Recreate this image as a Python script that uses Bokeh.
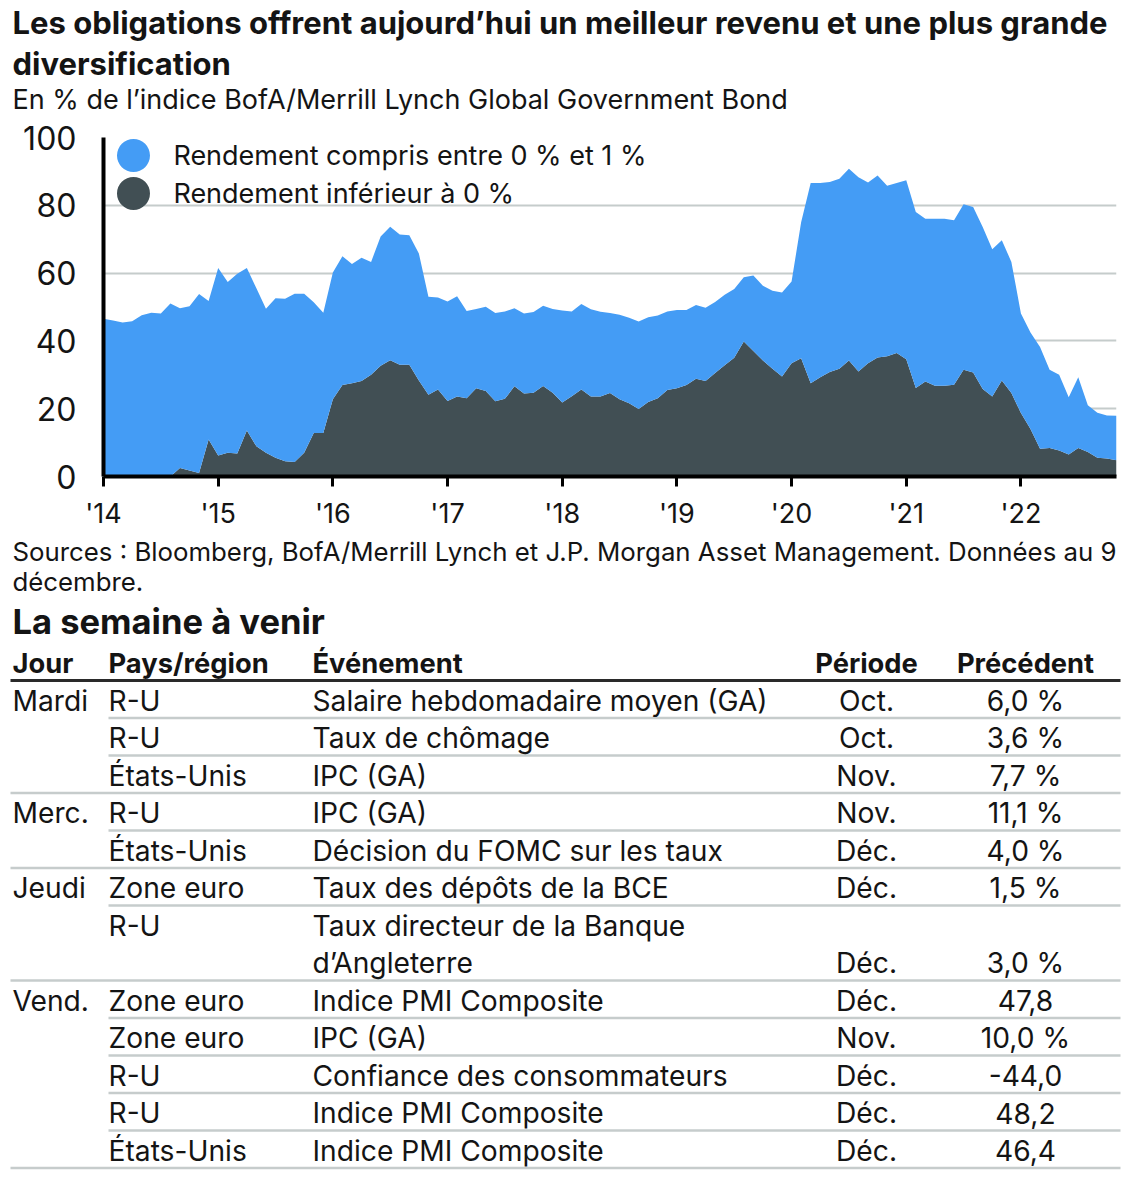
import numpy as np
from bokeh.plotting import figure
from bokeh.layouts import column
from bokeh.models import Range1d, FixedTicker, ColumnDataSource
from bokeh.embed import file_html
from bokeh.resources import INLINE
from bokeh.core.properties import value

# ---------------- data ----------------
title_lines = ["Les obligations offrent aujourd’hui un meilleur revenu et une plus grande",
               "diversification"]
subtitle = "En % de l’indice BofA/Merrill Lynch Global Government Bond"
legend_labels = ["Rendement compris entre 0 % et 1 %", "Rendement inférieur à 0 %"]
source_lines = ["Sources : Bloomberg, BofA/Merrill Lynch et J.P. Morgan Asset Management. Données au 9",
                "décembre."]
table_title = "La semaine à venir"

start_year = 2014
year_ticks = [2014, 2015, 2016, 2017, 2018, 2019, 2020, 2021, 2022]
year_labels = ["'14", "'15", "'16", "'17", "'18", "'19", "'20", "'21", "'22"]
y_ticks = [0, 20, 40, 60, 80, 100]

# monthly share of index, Jan 2014 -> Nov 2022
below_zero = [
    0, 0, 0, 0, 0, 0, 0, 0, 2.5, 1.8, 1.0, 10.9,
    6.2, 7.0, 6.8, 13.6, 8.9, 7.0, 5.5, 4.5, 4.3, 7.0, 12.8, 12.8,
    22.8, 27.0, 27.5, 28.2, 30.0, 32.7, 34.3, 33.0, 33.0, 28.3, 24.1, 25.7,
    22.3, 23.6, 23.1, 26.0, 25.2, 22.2, 22.9, 26.6, 24.5, 24.7, 26.7, 24.7,
    21.8, 23.7, 25.7, 23.6, 23.6, 24.6, 22.8, 21.6, 19.9, 22.0, 23.1, 25.5,
    26.0, 27.0, 28.8, 28.2, 30.5, 32.8, 35.0, 39.8, 37.0, 34.2, 31.8, 29.5,
    33.4, 34.9, 27.5, 29.3, 30.8, 31.8, 34.2, 31.0, 33.4, 35.1, 35.5, 36.4,
    34.6, 26.1, 28.0, 26.8, 26.8, 27.1, 31.5, 30.7, 25.8, 23.6, 28.3, 24.6,
    18.7, 14.0, 8.2, 8.4, 7.7, 6.5, 8.4, 7.2, 5.5, 5.3, 4.8,
]
zero_to_one = [
    46.5, 46.0, 45.4, 45.8, 47.6, 48.3, 48.1, 51.0, 47.1, 48.4, 52.8, 40.9,
    55.3, 50.4, 53.0, 47.9, 46.6, 42.5, 47.1, 47.9, 49.6, 46.9, 38.6, 35.5,
    37.4, 38.0, 35.2, 36.3, 33.3, 38.1, 39.4, 38.4, 38.2, 37.5, 28.9, 27.1,
    29.3, 29.6, 25.7, 23.4, 24.9, 26.0, 25.8, 23.0, 23.6, 23.8, 23.7, 24.7,
    27.2, 25.0, 25.2, 25.7, 25.0, 23.6, 24.9, 25.2, 25.8, 25.0, 24.4, 23.2,
    23.1, 22.1, 21.8, 21.6, 21.0, 20.8, 20.3, 19.0, 22.3, 22.1, 23.0, 24.8,
    24.1, 40.1, 59.1, 57.3, 56.1, 56.0, 56.6, 57.3, 53.3, 53.7, 50.3, 50.2,
    52.8, 51.9, 48.0, 49.2, 49.2, 48.5, 48.8, 48.8, 47.8, 43.4, 41.4, 38.7,
    29.4, 28.5, 30.0, 23.1, 22.3, 16.9, 20.9, 13.8, 13.3, 12.7, 13.1,
]

# table
tbl_headers = ["Jour", "Pays/région", "Événement", "Période", "Précédent"]
days = ["Mardi", "", "", "Merc.", "", "Jeudi", "", "Vend.", "", "", "", ""]
countries = ["R-U", "R-U", "États-Unis", "R-U", "États-Unis", "Zone euro", "R-U",
             "Zone euro", "Zone euro", "R-U", "R-U", "États-Unis"]
events = ["Salaire hebdomadaire moyen (GA)", "Taux de chômage", "IPC (GA)", "IPC (GA)",
          "Décision du FOMC sur les taux", "Taux des dépôts de la BCE",
          "Taux directeur de la Banque\nd’Angleterre", "Indice PMI Composite", "IPC (GA)",
          "Confiance des consommateurs", "Indice PMI Composite", "Indice PMI Composite"]
periods = ["Oct.", "Oct.", "Nov.", "Nov.", "Déc.", "Déc.", "Déc.", "Déc.", "Nov.", "Déc.", "Déc.", "Déc."]
previous = ["6,0 %", "3,6 %", "7,7 %", "11,1 %", "4,0 %", "1,5 %", "3,0 %", "47,8", "10,0 %",
            "-44,0", "48,2", "46,4"]

# ---------------- styles ----------------
FONT = "Inter"
BLUE = "#449cf5"
DARK = "#414f54"
TXT = "#141414"
GRID = "#c5cccb"
W = 1125


def blank(height, top):
    f = figure(width=W, height=height, x_range=Range1d(0, W), y_range=Range1d(top + height, top),
               output_backend="svg", toolbar_location=None, min_border=0)
    f.frame_align = False
    f.axis.visible = False
    f.grid.visible = False
    f.outline_line_color = None
    return f


# ---------------- header ----------------
hdr = blank(120, 0)
hdr.text(x=[12, 12], y=[22, 63], text=title_lines, text_font=value(FONT), text_font_size="31px",
         text_font_style="bold", text_color=TXT, text_baseline="middle")
hdr.text(x=[12], y=[99], text=[subtitle], text_font=value(FONT), text_font_size="27px",
         text_color=TXT, text_baseline="middle")

# ---------------- chart ----------------
n = len(below_zero)
x = start_year + np.arange(n) / 12.0
src = ColumnDataSource(dict(x=x, below=below_zero, between=zero_to_one))

x0, x1 = start_year, start_year + (n - 1) / 12.0
p = figure(width=W, height=412, x_range=Range1d(x0, x1), y_range=Range1d(0, 100),
           output_backend="svg", toolbar_location=None,
           min_border_left=103, min_border_right=9, min_border_top=17, min_border_bottom=55)
p.frame_align = False
p.outline_line_color = None
p.varea_stack(["below", "between"], x="x", source=src, color=[DARK, BLUE])

p.xgrid.visible = False
p.ygrid.ticker = FixedTicker(ticks=y_ticks)
p.ygrid.grid_line_color = GRID
p.ygrid.grid_line_width = 2

p.xaxis.ticker = FixedTicker(ticks=year_ticks)
p.xaxis.major_label_overrides = {t: l for t, l in zip(year_ticks, year_labels)}
p.yaxis.ticker = FixedTicker(ticks=y_ticks)
for ax in (p.xaxis, p.yaxis):
    ax.axis_line_color = "black"
    ax.axis_line_width = 4
    ax.major_tick_line_color = "black"
    ax.major_tick_line_width = 3
    ax.minor_tick_line_color = None
    ax.major_tick_in = 0
    ax.major_label_text_font = FONT
    ax.major_label_text_color = TXT
p.xaxis.major_label_text_font_size = "27px"
p.yaxis.major_label_text_font_size = "32px"
p.xaxis.major_tick_out = 10
p.xaxis.major_label_standoff = 10
p.yaxis.major_tick_out = 0
p.yaxis.major_label_standoff = 27

# legend (manual, circle markers)
span = x1 - x0
leg_y = [94.7, 83.5]
p.scatter(x=[x0 + 0.0296 * span] * 2, y=leg_y, size=33, color=[BLUE, DARK], line_color=None)
p.text(x=[x0 + 0.069 * span] * 2, y=leg_y, text=legend_labels, text_font=value(FONT),
       text_font_size="27px", text_color=TXT, text_baseline="middle")

# ---------------- table ----------------
tb_top = 532
t = blank(1184 - tb_top, tb_top)

t.text(x=[12, 12], y=[551, 581], text=source_lines, text_font=value(FONT), text_font_size="25.8px",
       text_color=TXT, text_baseline="middle")
t.text(x=[12], y=[621], text=[table_title], text_font=value(FONT), text_font_size="34.5px",
       text_font_style="bold", text_color=TXT, text_baseline="middle")

col_left = [12, 108, 312]
col_center = [866, 1025]
head_y = 663
t.text(x=col_left, y=[head_y] * 3, text=tbl_headers[:3], text_font=value(FONT), text_font_size="27.3px",
       text_font_style="bold", text_color=TXT, text_baseline="middle")
t.text(x=col_center, y=[head_y] * 2, text=tbl_headers[3:], text_font=value(FONT), text_font_size="27.3px",
       text_font_style="bold", text_color=TXT, text_baseline="middle", text_align="center")
line0 = 680
pitch = 37.5
t.segment(x0=[10], y0=[line0], x1=[1120], y1=[line0], line_color="#2a2a2a", line_width=3)

lx, ly, lt = [], [], []
cx, cy, ct = [], [], []
sx0, sy, sx1 = [], [], []
u = 0
for i in range(len(events)):
    ev_lines = events[i].split("\n")
    nl = len(ev_lines)
    first = line0 + pitch * u + 20
    last = first + pitch * (nl - 1)
    if days[i]:
        lx.append(col_left[0]); ly.append(first); lt.append(days[i])
    lx.append(col_left[1]); ly.append(first); lt.append(countries[i])
    for k, s in enumerate(ev_lines):
        lx.append(col_left[2]); ly.append(first + pitch * k); lt.append(s)
    cx += col_center; cy += [last, last]; ct += [periods[i], previous[i]]
    u += nl
    yline = line0 + pitch * u
    full = (i == len(events) - 1) or bool(days[i + 1])
    sx0.append(10 if full else 108); sy.append(yline); sx1.append(1120)

t.segment(x0=sx0, y0=sy, x1=sx1, y1=sy, line_color="#c6cccc", line_width=2.5)
t.text(x=lx, y=ly, text=lt, text_font=value(FONT), text_font_size="28.2px", text_color=TXT,
       text_baseline="middle")
t.text(x=cx, y=cy, text=ct, text_font=value(FONT), text_font_size="28.2px", text_color=TXT,
       text_baseline="middle", text_align="center")

layout = column(hdr, p, t, spacing=0)
open("out.html", "w").write(file_html(layout, INLINE))
